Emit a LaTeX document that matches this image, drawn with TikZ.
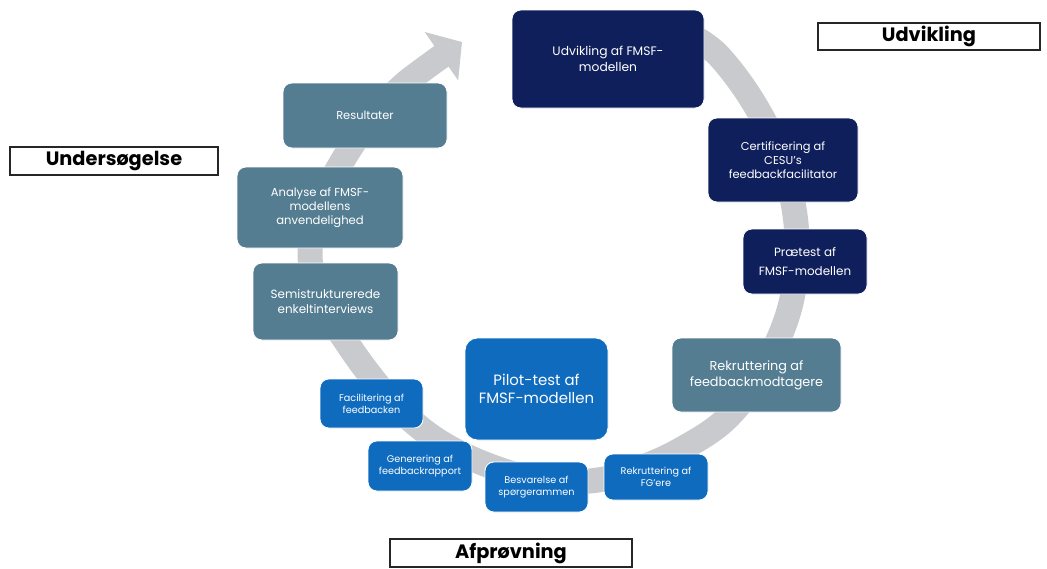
\documentclass[tikz,border=0pt]{standalone}
\usepackage{fontspec}
\setmainfont{Poppins}
\usetikzlibrary{arrows.meta}

\definecolor{navy}{RGB}{15,31,92}
\definecolor{staal}{RGB}{84,125,146}
\definecolor{klar}{RGB}{14,107,190}
\definecolor{bue}{RGB}{201,202,206}

\begin{document}
\begin{tikzpicture}[x=0.02cm,y=-0.02cm,
    trin/.style={draw=white,line width=0.5pt,rounded corners=5pt,text=white,
      align=center,inner sep=1pt},
    str/.style 2 args={minimum width=#1*0.02cm,minimum height=#2*0.02cm},
    fase/.style={draw=black!85,line width=0.8pt,inner sep=0pt,
      font=\bfseries\fontsize{11}{13}\selectfont}]
        \useasboundingbox (0,0) rectangle (1047,568);

        % den graa pil rundt
        \draw[bue,line width=0.5cm,-{Triangle[width=1.15cm,length=0.5cm]}]
          plot[smooth,tension=0.6] coordinates {(690,35) (718,55) (752,100) (780,155)
          (795,215) (796,270) (786,320) (760,375) (725,420) (680,450) (640,468)
          (598,480) (545,481) (490,466) (440,442) (400,410) (370,375) (345,340)
          (320,300) (310,255) (318,210) (340,165) (370,120) (400,88) (428,66) (462,42)};

        % udvikling
        \node[trin,fill=navy,str={192}{98},font=\fontsize{7}{9}\selectfont] (udv) at (608,59)
          {Udvikling af FMSF-\\modellen};
        \node[trin,fill=navy,str={150}{84},font=\fontsize{6.5}{8}\selectfont] (cert) at (783,160)
          {Certificering af\\CESU's\\feedbackfacilitator};
        \node[trin,fill=navy,str={124}{65},font=\fontsize{6.8}{11}\selectfont] (prae) at (805,261.5)
          {Prætest af\\FMSF-modellen};

        % afproevning
        \node[trin,fill=staal,str={169}{74},font=\fontsize{7.3}{9}\selectfont] (rekfb) at (756.5,375)
          {Rekruttering af\\feedbackmodtagere};
        \node[trin,fill=klar,str={104}{46},font=\fontsize{5.5}{7}\selectfont] (rekfg) at (656,477)
          {Rekruttering af\\FG'ere};
        \node[trin,fill=klar,str={103}{50},font=\fontsize{5.5}{7}\selectfont] (besv) at (536.5,487)
          {Besvarelse af\\spørgerammen};
        \node[trin,fill=klar,str={104}{50},font=\fontsize{5.5}{7}\selectfont] (gen) at (420,466)
          {Generering af\\feedbackrapport};
        \node[trin,fill=klar,str={103}{49},font=\fontsize{5.5}{7}\selectfont] (fac) at (371.5,403.5)
          {Facilitering af\\feedbacken};
        \node[trin,fill=klar,str={143}{102},rounded corners=7pt,font=\fontsize{8.5}{10}\selectfont]
          (pilot) at (536.5,389) {Pilot-test af\\FMSF-modellen};

        % undersoegelse
        \node[trin,fill=staal,str={145}{77},font=\fontsize{6.8}{8}\selectfont] (semi) at (325.5,301.5)
          {Semistrukturerede\\enkeltinterviews};
        \node[trin,fill=staal,str={166}{81},font=\fontsize{6.6}{8}\selectfont] (anal) at (320,207.5)
          {Analyse af FMSF-\\modellens\\anvendelighed};
        \node[trin,fill=staal,str={164}{65},font=\fontsize{6.5}{8}\selectfont] (res) at (365,115.5)
          {Resultater};

        % faserne
        \node[fase,str={222}{27}] (udvlab) at (929,36.5) {Udvikling};
        \node[fase,str={208}{28}] (undlab) at (114,161) {Undersøgelse};
        \node[fase,str={242}{28}] (afplab) at (511,553) {Afprøvning};
    \end{tikzpicture}
\end{document}
